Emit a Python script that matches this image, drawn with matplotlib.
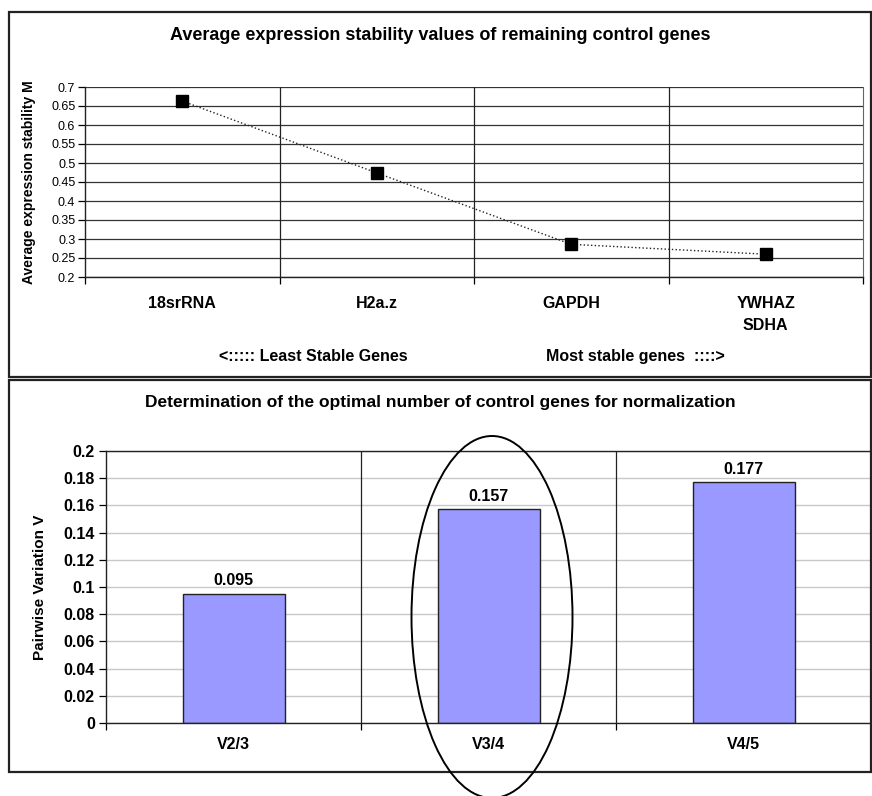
import matplotlib
matplotlib.use('Agg')
import matplotlib.pyplot as plt
from matplotlib.patches import Rectangle, Ellipse

plt.rcParams['font.family'] = ['Liberation Sans', 'DejaVu Sans']

# Data
genes = ['18srRNA', 'H2a.z', 'GAPDH', 'YWHAZ\nSDHA']
m_values = [0.663, 0.474, 0.286, 0.260]

pairs = ['V2/3', 'V3/4', 'V4/5']
v_values = [0.095, 0.157, 0.177]

W, H = 872, 796
fig = plt.figure(figsize=(W / 100, H / 100), dpi=100)

def px_box(x0, y0, x1, y1):
    # pixel box (top-left origin) -> figure fraction [l, b, w, h]
    return [x0 / W, 1 - y1 / H, (x1 - x0) / W, (y1 - y0) / H]

# outer frames
for (x0, y0, x1, y1) in [(9, 12, 871, 377), (9, 380, 871, 772)]:
    l, b, w, h = px_box(x0, y0, x1, y1)
    fig.patches.append(Rectangle((l, b), w, h, transform=fig.transFigure,
                                 fill=False, edgecolor='#222222', linewidth=1.6))

# ---------- top chart ----------
ax1 = fig.add_axes(px_box(85, 87, 863, 277))
n = len(genes)
ax1.set_xlim(-0.5, n - 0.5)
ax1.set_ylim(0.2, 0.7)
ax1.set_yticks([0.2 + 0.05 * i for i in range(11)])
ax1.set_yticklabels(['0.2', '0.25', '0.3', '0.35', '0.4', '0.45', '0.5',
                     '0.55', '0.6', '0.65', '0.7'], fontsize=9)
ax1.yaxis.grid(True, color='#333333', linewidth=0.9)
for xb in [i + 0.5 for i in range(n - 1)]:
    ax1.axvline(xb, color='#222222', linewidth=0.9)
ax1.set_xticks([i - 0.5 for i in range(n + 1)])
ax1.set_xticklabels([])
ax1.set_xticks(range(n), minor=True)
ax1.set_xticklabels(genes, minor=True, fontsize=11.5, fontweight='bold', linespacing=1.55)
ax1.tick_params(axis='x', which='minor', length=0, pad=14)
ax1.tick_params(axis='x', which='major', length=5, width=0.9, direction='out')
ax1.tick_params(axis='y', length=5, width=0.9, pad=2)
for s in ['left', 'bottom']:
    ax1.spines[s].set_color('#222222')
    ax1.spines[s].set_linewidth(1.0)
ax1.spines['right'].set_color('#666666')
ax1.spines['top'].set_visible(False)
ax1.plot(range(n), m_values, color='#222222', linestyle=':', linewidth=1.0,
         marker='s', markersize=8, markerfacecolor='black', markeredgecolor='black')
ax1.set_axisbelow(True)
ax1.set_ylabel('Average expression stability M', fontsize=10, fontweight='bold')
ax1.yaxis.set_label_coords(-(85 - 36) / 778, 0.5)

fig.text(440 / W, 1 - 35 / H, 'Average expression stability values of remaining control genes',
         ha='center', va='center', fontsize=13, fontweight='bold')
fig.text(313 / W, 1 - 356 / H, '<::::: Least Stable Genes', ha='center', va='center',
         fontsize=11.5, fontweight='bold')
fig.text(635 / W, 1 - 356 / H, 'Most stable genes  ::::>', ha='center', va='center',
         fontsize=11.5, fontweight='bold')

# ---------- bottom chart ----------
ax2 = fig.add_axes(px_box(106, 451, 871, 723))
k = len(pairs)
ax2.set_xlim(-0.5, k - 0.5)
ax2.set_ylim(0, 0.2)
yt = [0.02 * i for i in range(11)]
ax2.set_yticks(yt)
ax2.set_yticklabels(['0', '0.02', '0.04', '0.06', '0.08', '0.1', '0.12', '0.14',
                     '0.16', '0.18', '0.2'], fontsize=11.5, fontweight='bold')
ax2.yaxis.grid(True, color='#c8c8c8', linewidth=1.0)
ax2.set_axisbelow(True)
for xb in [i + 0.5 for i in range(k - 1)]:
    ax2.axvline(xb, color='#222222', linewidth=0.9, zorder=1)
ax2.bar(range(k), v_values, width=0.4, color='#9999FF', edgecolor='#222222',
        linewidth=1.0, zorder=2)
for i, v in enumerate(v_values):
    ax2.text(i, v + 0.004, '%.3f' % v, ha='center', va='bottom',
             fontsize=11.5, fontweight='bold')
ax2.set_xticks([i - 0.5 for i in range(k + 1)])
ax2.set_xticklabels([])
ax2.set_xticks(range(k), minor=True)
ax2.set_xticklabels(pairs, minor=True, fontsize=11.5, fontweight='bold')
ax2.tick_params(axis='x', which='minor', length=0, pad=10)
ax2.tick_params(axis='x', which='major', length=5, width=0.9, direction='out')
ax2.tick_params(axis='y', length=5, width=0.9, pad=3)
for s in ['left', 'bottom', 'top']:
    ax2.spines[s].set_color('#222222')
    ax2.spines[s].set_linewidth(1.0)
ax2.spines['right'].set_visible(False)
ax2.set_ylabel('Pairwise Variation V', fontsize=11, fontweight='bold')
ax2.yaxis.set_label_coords(-(106 - 47) / 765, 0.5)

fig.text(440 / W, 1 - 403 / H,
         'Determination of the optimal number of control genes for normalization',
         ha='center', va='center', fontsize=12.5, fontweight='bold')

# ellipse around V3/4
ex, ey, ew, eh = 492, 617, 161, 362
fig.patches.append(Ellipse((ex / W, 1 - ey / H), ew / W, eh / H,
                           transform=fig.transFigure, fill=False,
                           edgecolor='black', linewidth=1.4, zorder=10))

fig.savefig('out.png', dpi=100, facecolor='white')
